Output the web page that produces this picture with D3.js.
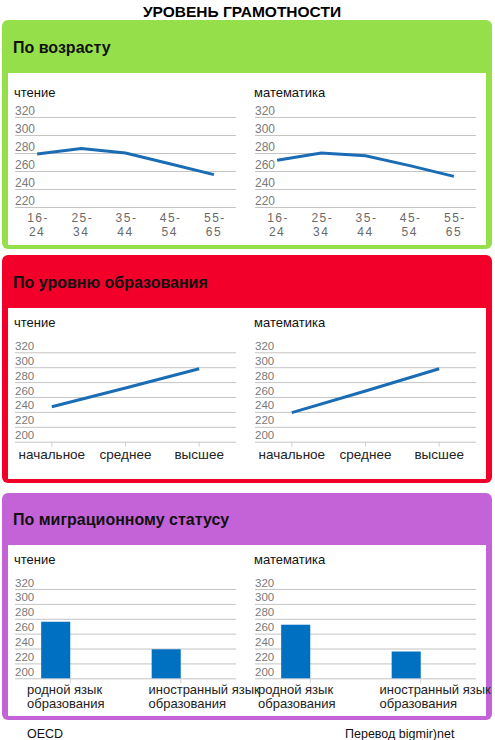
<!DOCTYPE html>
<html>
<head>
<meta charset="utf-8">
<script src="https://cdn.jsdelivr.net/npm/d3@7"></script>
<style>
  body { margin: 0; background: #fff; }
  text { font-family: "Liberation Sans", Arial, sans-serif; }
</style>
</head>
<body>
<div id="chart"></div>
<script>
// data
const ageGroups = ["16-24", "25-34", "35-44", "45-54", "55-65"];
const ageReading = [279, 285, 280, 268, 256];
const ageMath = [272, 280, 277, 266, 254];

const eduLevels = ["начальное", "среднее", "высшее"];
const eduReading = [247, 272, 298];
const eduMath = [239, 268, 298];

const migrGroups = ["родной язык|образования", "иностранный язык|образования"];
const migrReading = [276, 239];
const migrMath = [272, 236];

const ageTicks = [220, 240, 260, 280, 300, 320];
const otherTicks = [200, 220, 240, 260, 280, 300, 320];

var w = 495, h = 740;

var svg = d3.select("#chart").append("svg")
  .attr("width", w)
  .attr("height", h);

svg.append("text")
  .attr("x", 242).attr("y", 17)
  .attr("text-anchor", "middle")
  .attr("font-size", 15.5).attr("font-weight", "bold")
  .text("УРОВЕНЬ ГРАМОТНОСТИ");

var panels = [
  { title: "По возрасту", color: "#95e04a", top: 20, head: 73, bottom: 249,
    kind: "line", cats: ageGroups, series: [ageReading, ageMath], ticks: ageTicks,
    sub: 97, y0: 207, y1: 117, fs: 12 },
  { title: "По уровню образования", color: "#f2002a", top: 255, head: 308, bottom: 483,
    kind: "line", cats: eduLevels, series: [eduReading, eduMath], ticks: otherTicks,
    sub: 327, y0: 441.7, y1: 352.3, fs: 11.5 },
  { title: "По миграционному статусу", color: "#c463d7", top: 493, head: 545, bottom: 720,
    kind: "bar", cats: migrGroups, series: [migrReading, migrMath], ticks: otherTicks,
    sub: 564, y0: 678.3, y1: 589, fs: 11.5 }
];

var subTitles = ["чтение", "математика"];
var chartLeft = [15, 255], chartW = 221;

panels.forEach(function(p) {
  var g = svg.append("g");
  g.append("rect")
    .attr("x", 2).attr("y", p.top)
    .attr("width", 490).attr("height", p.bottom - p.top)
    .attr("rx", 6).attr("fill", p.color);
  g.append("rect")
    .attr("x", 8).attr("y", p.head)
    .attr("width", 478).attr("height", p.bottom - 4 - p.head)
    .attr("fill", "#fff");
  g.append("text")
    .attr("x", 13).attr("y", (p.top + p.head) / 2 + 6)
    .attr("font-size", 16).attr("font-weight", "bold")
    .attr("fill", "#111")
    .text(p.title);

  p.series.forEach(function(values, si) {
    var left = chartLeft[si];
    var x = d3.scaleBand().domain(p.cats).range([left, left + chartW]);
    var y = d3.scaleLinear().domain(d3.extent(p.ticks)).range([p.y0, p.y1]);

    g.append("text")
      .attr("x", left - 1).attr("y", p.sub)
      .attr("font-size", 13).attr("fill", "#111")
      .text(subTitles[si]);

    // gridlines + labels
    var grid = g.append("g")
      .attr("transform", "translate(" + left + ",0)")
      .call(d3.axisRight(y).tickValues(p.ticks).tickSize(chartW).tickFormat(d3.format("d")));
    grid.select(".domain").remove();
    grid.selectAll(".tick line").attr("stroke", "#c4c4c4");
    grid.selectAll(".tick text")
      .attr("x", 0).attr("dy", -3)
      .attr("text-anchor", "start")
      .attr("font-size", p.fs)
      .attr("font-family", "Liberation Sans, Arial, sans-serif")
      .attr("fill", "#7a7a7a");

    // category axis
    var xa = g.append("g")
      .attr("transform", "translate(0," + p.y0 + ")")
      .call(d3.axisBottom(x).tickSize(p.cats === ageGroups ? 0 : 5).tickFormat(""));
    xa.select(".domain").remove();
    xa.selectAll(".tick line").attr("stroke", "#d0d0d0");

    if (p.cats === ageGroups) {
      p.cats.forEach(function(c) {
        var parts = c.split("-");
        var t = g.append("text")
          .attr("text-anchor", "middle")
          .attr("font-size", 12).attr("fill", "#6a6a6a")
          .attr("letter-spacing", 1.5);
        t.append("tspan").attr("x", x(c) + x.bandwidth() / 2 + 1).attr("y", p.y0 + 15).text(parts[0] + "-");
        t.append("tspan").attr("x", x(c) + x.bandwidth() / 2).attr("y", p.y0 + 29).text(parts[1]);
      });
    } else if (p.kind === "line") {
      g.selectAll(null).data(p.cats).enter().append("text")
        .attr("x", function(d) { return x(d) + x.bandwidth() / 2; })
        .attr("y", p.y0 + 17)
        .attr("text-anchor", "middle")
        .attr("font-size", 13.5).attr("fill", "#222")
        .text(function(d) { return d; });
    } else {
      var shift = si === 0 ? 12 : 3;
      p.cats.forEach(function(c, i) {
        var parts = c.split("|");
        var t = g.append("text")
          .attr("font-size", 13).attr("fill", "#222");
        parts.forEach(function(s, k) {
          t.append("tspan")
            .attr("x", x(c) + shift + 11 * i)
            .attr("y", p.y0 + 16 + k * 14)
            .text(s);
        });
      });
    }

    if (p.kind === "line") {
      var line = d3.line()
        .x(function(d, i) { return x(p.cats[i]) + x.bandwidth() / 2; })
        .y(function(d) { return y(d); });
      g.append("path")
        .datum(values)
        .attr("d", line)
        .attr("fill", "none")
        .attr("stroke", "#1a6db5")
        .attr("stroke-width", 3);
    } else {
      var x1 = d3.scaleBand().domain([0, 1]).range([0, x.bandwidth()]).paddingOuter(0.9);
      g.selectAll(null).data(values).enter().append("rect")
        .attr("x", function(d, i) { return x(p.cats[i]) + x1(0); })
        .attr("y", function(d) { return y(d); })
        .attr("width", x1.bandwidth())
        .attr("height", function(d) { return p.y0 - y(d); })
        .attr("fill", "#0070c0");
    }
  });
});

svg.append("text")
  .attr("x", 27).attr("y", 738)
  .attr("font-size", 12.5).attr("fill", "#111")
  .text("OECD");
svg.append("text")
  .attr("x", 345).attr("y", 738)
  .attr("font-size", 12.5).attr("fill", "#111")
  .text("Перевод bigmir)net");
</script>
</body>
</html>
